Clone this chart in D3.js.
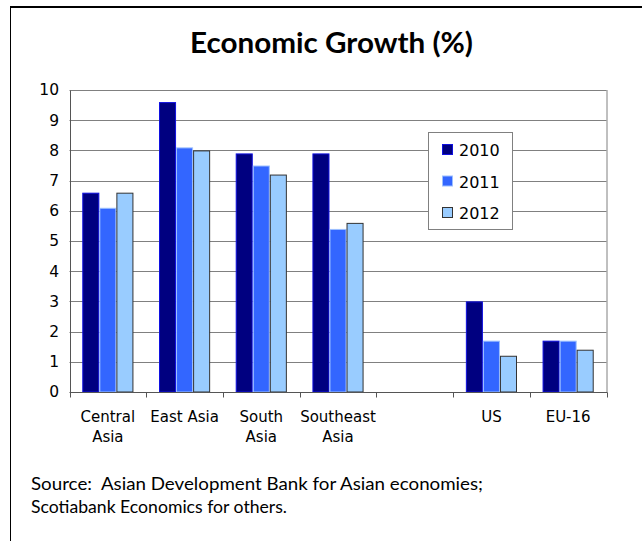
<!DOCTYPE html>
<html>
<head>
<meta charset="utf-8">
<script src="https://cdn.jsdelivr.net/npm/d3@7"></script>
<style>
  html, body { margin: 0; padding: 0; background: #fff; }
  svg { display: block; }
  .note { white-space: pre; }
</style>
</head>
<body>
<div id="chart"></div>
<script>
const categories = [["Central", "Asia"], ["East Asia"], ["South", "Asia"], ["Southeast", "Asia"], [""], ["US"], ["EU-16"]];
const years = ["2010", "2011", "2012"];
const v2010 = [6.6, 9.6, 7.9, 7.9, null, 3.0, 1.7];
const v2011 = [6.1, 8.1, 7.5, 5.4, null, 1.7, 1.7];
const v2012 = [6.6, 8.0, 7.2, 5.6, null, 1.2, 1.4];
const yTicks = [0, 1, 2, 3, 4, 5, 6, 7, 8, 9, 10];

const series = [v2010, v2011, v2012];
const fills = ["#000080", "#3366FF", "#99CCFF"];
const strokes = ["#1010E0", "#9DC0FF", "#333333"];

const width = 642, height = 541;
const margin = { left: 69.5, right: 606.5, top: 90, bottom: 392 };

const svg = d3.select("#chart").append("svg")
  .attr("width", width)
  .attr("height", height);

// outer frame
svg.append("line").attr("x1", 10).attr("x2", width).attr("y1", 7).attr("y2", 7)
  .attr("stroke", "#000").attr("stroke-width", 2);
svg.append("line").attr("x1", 10.5).attr("x2", 10.5).attr("y1", 6).attr("y2", height)
  .attr("stroke", "#000").attr("stroke-width", 1);

svg.append("text")
  .attr("x", 331.5).attr("y", 53)
  .attr("text-anchor", "middle")
  .attr("font-family", "Lato, 'Open Sans', sans-serif")
  .attr("font-weight", "bold")
  .attr("font-size", 28)
  .attr("textLength", 283)
  .attr("lengthAdjust", "spacingAndGlyphs")
  .text("Economic Growth (%)");

const idx = d3.range(categories.length);
const x = d3.scaleBand().domain(idx).range([margin.left, margin.right]).paddingInner(0).paddingOuter(0);
const inner = d3.scaleBand().domain(d3.range(years.length)).range([x.bandwidth() / 6, x.bandwidth() * 5 / 6]);
const y = d3.scaleLinear().domain([0, 10]).range([margin.bottom, margin.top]);

// gridlines
svg.append("g").selectAll("line").data(yTicks.filter(d => d > 0)).enter().append("line")
  .attr("x1", margin.left).attr("x2", margin.right)
  .attr("y1", d => Math.round(y(d)) + 0.5).attr("y2", d => Math.round(y(d)) + 0.5)
  .attr("stroke", "#808080").attr("stroke-width", 1);

// right border
svg.append("line").attr("x1", margin.right + 0.5).attr("x2", margin.right + 0.5)
  .attr("y1", margin.top).attr("y2", margin.bottom)
  .attr("stroke", "#808080");

// bars
series.forEach((vals, s) => {
  svg.append("g").selectAll("rect").data(idx.filter(i => vals[i] != null)).enter().append("rect")
    .attr("x", i => x(i) + inner(s) + 0.5)
    .attr("width", inner.bandwidth() - 1)
    .attr("y", i => y(vals[i]) + 0.5)
    .attr("height", i => y(0) - y(vals[i]) - 0.5)
    .attr("fill", fills[s])
    .attr("stroke", strokes[s])
    .attr("stroke-width", 1);
});

// y axis
const yAxis = svg.append("g")
  .attr("transform", `translate(${margin.left + 0.5},0)`)
  .call(d3.axisLeft(y).tickValues(yTicks).tickSize(0).tickPadding(11));
yAxis.select(".domain").attr("stroke", "#555");
yAxis.selectAll("text").attr("font-family", "'DejaVu Sans', Verdana, sans-serif").attr("font-size", 15.5).attr("fill", "#000");

// x axis
const xAxis = svg.append("g")
  .attr("transform", `translate(0,${Math.round(margin.bottom) + 0.5})`);
xAxis.append("line").attr("x1", margin.left).attr("x2", margin.right + 1)
  .attr("stroke", "#555");
xAxis.selectAll(".tick").data(idx.concat([categories.length])).enter().append("line")
  .attr("x1", i => Math.round(i < categories.length ? x(i) : margin.right) + 0.5)
  .attr("x2", i => Math.round(i < categories.length ? x(i) : margin.right) + 0.5)
  .attr("y1", 0).attr("y2", 5)
  .attr("stroke", "#555");
const labels = xAxis.selectAll("text.cat").data(idx).enter().append("text")
  .attr("class", "cat")
  .attr("x", i => x(i) + x.bandwidth() / 2)
  .attr("y", 29.5)
  .attr("text-anchor", "middle")
  .attr("font-family", "'DejaVu Sans', Verdana, sans-serif")
  .attr("font-size", 15)
  .attr("fill", "#000");
labels.each(function (i) {
  d3.select(this).selectAll("tspan").data(categories[i]).enter().append("tspan")
    .attr("x", x(i) + x.bandwidth() / 2)
    .attr("dy", (d, k) => k === 0 ? 0 : 20)
    .text(d => d);
});

// legend
const legend = svg.append("g");
legend.append("rect").attr("x", 428.5).attr("y", 132.5).attr("width", 84).attr("height", 97)
  .attr("fill", "#fff").attr("stroke", "#808080");
const items = legend.selectAll("g.item").data(years).enter().append("g")
  .attr("transform", (d, k) => `translate(0,${150 + k * 31.5})`);
items.append("rect").attr("x", 442.5).attr("y", -5.5).attr("width", 10).attr("height", 10)
  .attr("fill", (d, k) => fills[k]).attr("stroke", (d, k) => strokes[k]);
items.append("text").attr("x", 459).attr("y", 6)
  .attr("font-family", "'DejaVu Sans', Verdana, sans-serif")
  .attr("font-size", 16)
  .attr("fill", "#000")
  .text(d => d);

// source note
const notes = ["Source:  Asian Development Bank for Asian economies;", "Scotiabank Economics for others."];
const noteLengths = [452, 256];
svg.append("g").selectAll("text").data(notes).enter().append("text")
  .attr("class", "note")
  .attr("x", 31).attr("y", (d, k) => 490 + k * 23)
  .attr("font-family", "Lato, 'Open Sans', sans-serif")
  .attr("font-size", 17)
  .attr("fill", "#000")
  .attr("textLength", (d, k) => noteLengths[k])
  .attr("lengthAdjust", "spacingAndGlyphs")
  .text(d => d);
</script>
</body>
</html>
